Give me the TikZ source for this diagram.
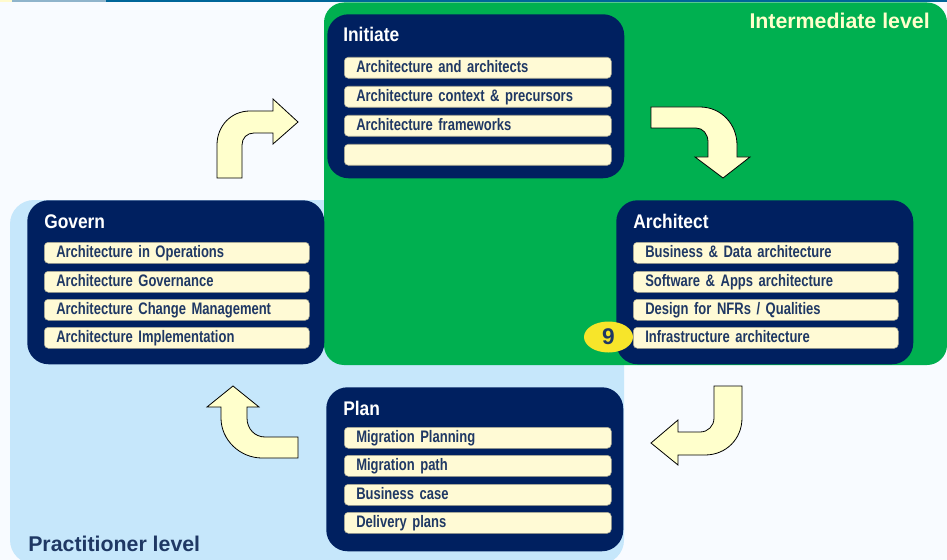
\documentclass[tikz,border=0pt]{standalone}
\usepackage{fontspec}
\usetikzlibrary{shapes.geometric}
\setmainfont{Liberation Sans}
\newfontfamily\boxfont{Liberation Sans}[FakeStretch=0.78]
\newfontfamily\titlefont{Liberation Sans}[FakeStretch=0.88]
\newcommand\itemfont{\boxfont\bfseries\fontsize{12.5}{14}\selectfont\spaceskip=2.8pt plus 1pt\relax}
\definecolor{pagebg}{HTML}{F8FBFF}
\definecolor{levelgreen}{HTML}{00B050}
\definecolor{levelblue}{HTML}{C6E7FB}
\definecolor{navy}{HTML}{002060}
\definecolor{itemfill}{HTML}{FFFAD5}
\definecolor{itemedge}{HTML}{A8A690}
\definecolor{itemtext}{HTML}{1F3864}
\definecolor{arrowfill}{HTML}{FFFFCC}
\definecolor{badge}{HTML}{F7E52A}
\definecolor{stripA}{HTML}{FFFACD}
\definecolor{stripB}{HTML}{8FB4CB}
\definecolor{stripC}{HTML}{006699}
\begin{document}
\begin{tikzpicture}[x=0.75pt,y=-0.75pt,
  panel/.style={fill=navy, rounded corners=16pt, minimum width=222.75pt,
    minimum height=123pt, anchor=north west, inner sep=0pt},
  paneltitle/.style={anchor=base west, text=white, inner sep=0pt,
    font=\titlefont\bfseries\fontsize{14.8}{18}\selectfont},
  item/.style={anchor=north west, fill=itemfill, draw=itemedge, line width=0.4pt,
    rounded corners=3pt, minimum height=15.75pt, inner xsep=9pt, inner ysep=0pt,
    text width=182.25pt, align=left, text height=9.2pt, text depth=2pt,
    text=itemtext, font=\itemfont},
  itemw/.style={item, text width=180.75pt},
  bentarrow/.style={fill=arrowfill, draw=black, line width=0.6pt, line join=miter},
  levellabel/.style={inner sep=0pt, font=\bfseries\fontsize{16}{19}\selectfont}]

% page and level areas
\fill[pagebg] (0,0) rectangle (947,560);
\useasboundingbox (0,0) rectangle (947,560);
\fill[stripA] (0,0) rectangle (12,2.5);
\fill[stripB] (12,0) rectangle (106,2.5);
\fill[stripC] (106,0) rectangle (947,2.5);
\fill[levelblue, rounded corners=18pt] (10,200) rectangle (624,564);
\fill[levelgreen, rounded corners=15pt] (324,2.5) rectangle (947,365);

% stage panels
\node[panel] (initiate) at (327,14) {};
\node[panel] (architect) at (616,200) {};
\node[panel] (govern) at (27,200) {};
\node[panel] (plan) at (326,387) {};

\node[paneltitle] (initiateT) at (343,42) {Initiate};
\node[paneltitle] (architectT) at (633,228) {Architect};
\node[paneltitle] (governT) at (44,228) {Govern};
\node[paneltitle] (planT) at (343,415) {Plan};

% Initiate topics
\node[item] (i1) at (344,57) {Architecture and architects};
\node[item] (i2) at (344,86) {Architecture context \& precursors};
\node[item] (i3) at (344,115) {Architecture frameworks};
\node[item] (i4) at (344,144) {};

% Architect topics
\node[itemw] (a1) at (633,242) {Business \& Data architecture};
\node[itemw] (a2) at (633,271) {Software \& Apps architecture};
\node[itemw] (a3) at (633,299) {Design for NFRs / Qualities};
\node[itemw] (a4) at (633,327) {Infrastructure architecture};

% Govern topics
\node[itemw] (g1) at (44,242) {Architecture in Operations};
\node[itemw] (g2) at (44,271) {Architecture Governance};
\node[itemw] (g3) at (44,299) {Architecture Change Management};
\node[itemw] (g4) at (44,327) {Architecture Implementation};

% Plan topics
\node[item] (p1) at (344,427) {Migration Planning};
\node[item] (p2) at (344,455) {Migration path};
\node[item] (p3) at (344,484) {Business case};
\node[item] (p4) at (344,512) {Delivery plans};

% cycle arrows
\draw[bentarrow] (217,178) -- (217,145) .. controls (217,126) and (231,111) .. (250,111)
  -- (273,111) -- (273,99) -- (298,122) -- (273,144) -- (273,133) -- (254,133)
  .. controls (247,133) and (242,138) .. (242,145) -- (242,178) -- cycle;
\draw[bentarrow] (651,107) -- (700,107) .. controls (721,107) and (737,124) .. (737,145)
  -- (737,157) -- (750,157) -- (723,178) -- (695,157) -- (708,157) -- (708,142)
  .. controls (708,134) and (703,128) .. (696,128) -- (651,128) -- cycle;
\draw[bentarrow] (714,386) -- (742,386) -- (742,418) .. controls (742,439) and (726,455) .. (705,455)
  -- (678,455) -- (678,465) -- (651,443) -- (678,420) -- (678,432) -- (700,432)
  .. controls (708,432) and (714,426) .. (714,418) -- cycle;
\draw[bentarrow] (298,437) -- (298,458) -- (262,458) .. controls (240,458) and (221,440) .. (221,418)
  -- (221,407) -- (207,407) -- (233,386) -- (259,407) -- (247,407) -- (247,418)
  .. controls (247,429) and (255,437) .. (265,437) -- cycle;

% module badge
\node[ellipse, fill=badge, minimum width=36.75pt, minimum height=23.25pt, inner sep=0pt,
  text=itemtext, font=\bfseries\fontsize{17}{19}\selectfont] (badge9) at (608.5,337) {9};

% level labels
\node[levellabel, anchor=base east, text=arrowfill] (intermediate) at (930,29) {Intermediate level};
\node[levellabel, anchor=base west, text=itemtext] (practitioner) at (28,551) {Practitioner level};
\end{tikzpicture}
\end{document}
